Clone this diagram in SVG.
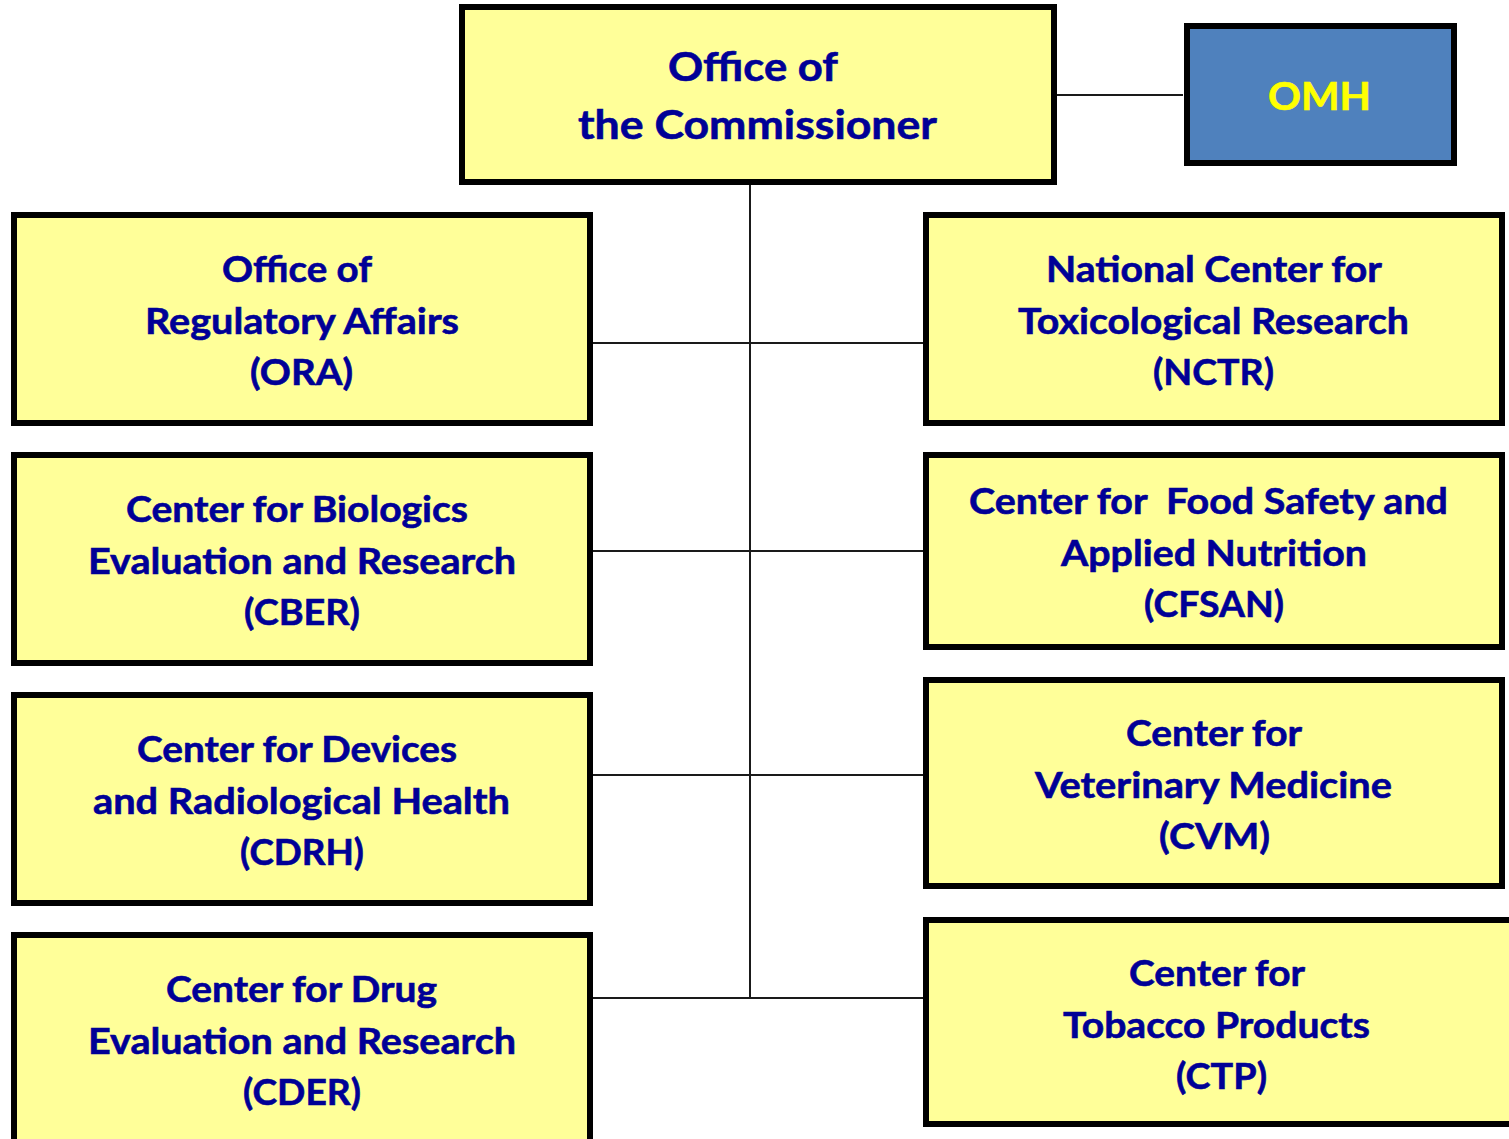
<svg xmlns="http://www.w3.org/2000/svg" width="1509" height="1139" viewBox="0 0 1509 1139">
  <style>
    .box { fill: #FFFF99; stroke: #000000; stroke-width: 6; }
    .omh { fill: #4F81BD; stroke: #000000; stroke-width: 6; }
    .lbl { font-family: Lato, "Open Sans", "Liberation Sans", sans-serif; font-weight: 700; font-size: 37px; fill: #000096; stroke: #000096; stroke-width: 0.6; text-anchor: middle; white-space: pre; }
    .big { font-size: 41px; }
    .yel { fill: #FFFF00; stroke: #FFFF00; font-size: 38px; }
    .conn { stroke: #1a1a1a; stroke-width: 2; fill: none; }
  </style>
  <rect width="1509" height="1139" fill="#FFFFFF"/>

  <!-- reporting lines -->
  <g id="connectors">
    <line class="conn" x1="1057" y1="95" x2="1183" y2="95"/>
    <line class="conn" x1="750" y1="185" x2="750" y2="998"/>
    <line class="conn" x1="593" y1="343" x2="923" y2="343"/>
    <line class="conn" x1="593" y1="551" x2="923" y2="551"/>
    <line class="conn" x1="593" y1="775" x2="923" y2="775"/>
    <line class="conn" x1="593" y1="998" x2="923" y2="998"/>
  </g>

  <g id="commissioner">
    <rect class="box" x="462" y="7" width="592" height="175"/>
    <text class="lbl big" x="753" y="81" textLength="170" lengthAdjust="spacingAndGlyphs">Office of</text>
    <text class="lbl big" x="757.5" y="139" textLength="359" lengthAdjust="spacingAndGlyphs">the Commissioner</text>
  </g>

  <g id="omh">
    <rect class="omh" x="1187" y="26" width="267" height="137"/>
    <text class="lbl yel" x="1319.5" y="110" textLength="103" lengthAdjust="spacingAndGlyphs">OMH</text>
  </g>

  <g id="ora">
    <rect class="box" x="14" y="215" width="576" height="208"/>
    <text class="lbl" x="297" y="282" textLength="150" lengthAdjust="spacingAndGlyphs">Office of</text>
    <text class="lbl" x="302" y="334" textLength="314" lengthAdjust="spacingAndGlyphs">Regulatory Affairs</text>
    <text class="lbl" x="301.5" y="385" textLength="103" lengthAdjust="spacingAndGlyphs">(ORA)</text>
  </g>

  <g id="cber">
    <rect class="box" x="14" y="455" width="576" height="208"/>
    <text class="lbl" x="297" y="522" textLength="342" lengthAdjust="spacingAndGlyphs">Center for Biologics</text>
    <text class="lbl" x="302" y="574" textLength="428" lengthAdjust="spacingAndGlyphs">Evaluation and Research</text>
    <text class="lbl" x="302" y="625" textLength="116" lengthAdjust="spacingAndGlyphs">(CBER)</text>
  </g>

  <g id="cdrh">
    <rect class="box" x="14" y="695" width="576" height="208"/>
    <text class="lbl" x="297" y="762" textLength="320" lengthAdjust="spacingAndGlyphs">Center for Devices</text>
    <text class="lbl" x="301.5" y="814" textLength="417" lengthAdjust="spacingAndGlyphs">and Radiological Health</text>
    <text class="lbl" x="302" y="865" textLength="124" lengthAdjust="spacingAndGlyphs">(CDRH)</text>
  </g>

  <g id="cder">
    <rect class="box" x="14" y="935" width="576" height="230"/>
    <text class="lbl" x="301.5" y="1002" textLength="271" lengthAdjust="spacingAndGlyphs">Center for Drug</text>
    <text class="lbl" x="302" y="1054" textLength="428" lengthAdjust="spacingAndGlyphs">Evaluation and Research</text>
    <text class="lbl" x="302" y="1105" textLength="118" lengthAdjust="spacingAndGlyphs">(CDER)</text>
  </g>

  <g id="nctr">
    <rect class="box" x="926" y="215" width="576" height="208"/>
    <text class="lbl" x="1214" y="282" textLength="336" lengthAdjust="spacingAndGlyphs">National Center for</text>
    <text class="lbl" x="1213.5" y="334" textLength="391" lengthAdjust="spacingAndGlyphs">Toxicological Research</text>
    <text class="lbl" x="1213.5" y="385" textLength="121" lengthAdjust="spacingAndGlyphs">(NCTR)</text>
  </g>

  <g id="cfsan">
    <rect class="box" x="926" y="455" width="576" height="192"/>
    <text class="lbl" x="1208.5" y="514" textLength="479" lengthAdjust="spacingAndGlyphs">Center for  Food Safety and</text>
    <text class="lbl" x="1214" y="566" textLength="306" lengthAdjust="spacingAndGlyphs">Applied Nutrition</text>
    <text class="lbl" x="1214" y="617" textLength="140" lengthAdjust="spacingAndGlyphs">(CFSAN)</text>
  </g>

  <g id="cvm">
    <rect class="box" x="926" y="680" width="576" height="206"/>
    <text class="lbl" x="1214" y="746" textLength="176" lengthAdjust="spacingAndGlyphs">Center for</text>
    <text class="lbl" x="1213.5" y="798" textLength="357" lengthAdjust="spacingAndGlyphs">Veterinary Medicine</text>
    <text class="lbl" x="1214.5" y="849" textLength="111" lengthAdjust="spacingAndGlyphs">(CVM)</text>
  </g>

  <g id="ctp">
    <rect class="box" x="926" y="920" width="600" height="204"/>
    <text class="lbl" x="1217" y="986" textLength="176" lengthAdjust="spacingAndGlyphs">Center for</text>
    <text class="lbl" x="1216.5" y="1038" textLength="307" lengthAdjust="spacingAndGlyphs">Tobacco Products</text>
    <text class="lbl" x="1221.5" y="1089" textLength="91" lengthAdjust="spacingAndGlyphs">(CTP)</text>
  </g>
</svg>
